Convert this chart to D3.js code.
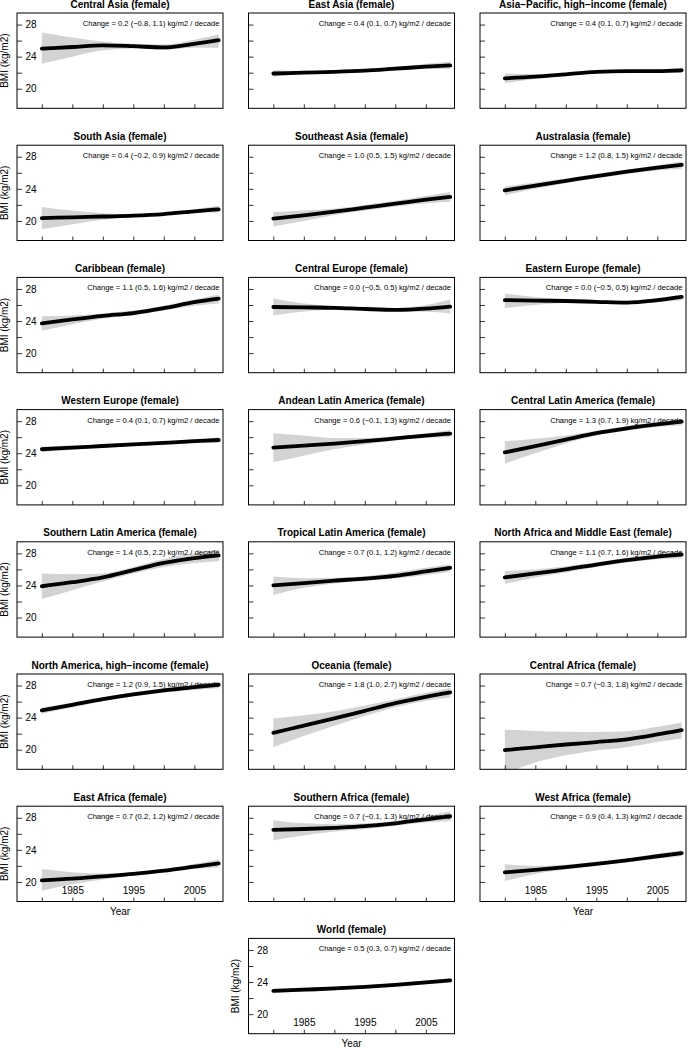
<!DOCTYPE html>
<html>
<head>
<meta charset="utf-8">
<script src="https://cdn.jsdelivr.net/npm/d3@7/dist/d3.min.js"></script>
<style>
  html, body { margin: 0; padding: 0; background: #fff; }
  svg { display: block; font-family: "Liberation Sans", Arial, Helvetica, sans-serif; }
</style>
</head>
<body>
<svg id="chart" width="688" height="1050"></svg>
<script>
// ---------------- DATA ----------------
const years = [1980, 1985, 1990, 1995, 2000, 2005, 2009];

const regions = [
  "Central Asia", "East Asia", "Asia\u2212Pacific, high\u2212income",
  "South Asia", "Southeast Asia", "Australasia",
  "Caribbean", "Central Europe", "Eastern Europe",
  "Western Europe", "Andean Latin America", "Central Latin America",
  "Southern Latin America", "Tropical Latin America", "North Africa and Middle East",
  "North America, high\u2212income", "Oceania", "Central Africa",
  "East Africa", "Southern Africa", "West Africa",
  "World"
];

const changeLabels = [
  "0.2 (\u22120.8, 1.1)", "0.4 (0.1, 0.7)", "0.4 (0.1, 0.7)",
  "0.4 (\u22120.2, 0.9)", "1.0 (0.5, 1.5)", "1.2 (0.8, 1.5)",
  "1.1 (0.5, 1.6)", "0.0 (\u22120.5, 0.5)", "0.0 (\u22120.5, 0.5)",
  "0.4 (0.1, 0.7)", "0.6 (\u22120.1, 1.3)", "1.3 (0.7, 1.9)",
  "1.4 (0.5, 2.2)", "0.7 (0.1, 1.2)", "1.1 (0.7, 1.6)",
  "1.2 (0.9, 1.5)", "1.8 (1.0, 2.7)", "0.7 (\u22120.3, 1.8)",
  "0.7 (0.2, 1.2)", "0.7 (\u22120.1, 1.3)", "0.9 (0.4, 1.3)",
  "0.5 (0.3, 0.7)"
];

const meanBMI = [
  [25.0, 25.2, 25.4, 25.3, 25.15, 25.6, 26.05],
  [21.9, 22.0, 22.1, 22.25, 22.5, 22.75, 22.9],
  [21.3, 21.5, 21.8, 22.1, 22.2, 22.2, 22.3],
  [20.35, 20.45, 20.55, 20.65, 20.85, 21.2, 21.45],
  [20.3, 20.7, 21.15, 21.65, 22.15, 22.65, 23.0],
  [23.8, 24.4, 25.0, 25.6, 26.15, 26.65, 27.0],
  [23.7, 24.2, 24.65, 25.0, 25.6, 26.35, 26.8],
  [25.75, 25.7, 25.65, 25.5, 25.4, 25.55, 25.8],
  [26.6, 26.55, 26.5, 26.4, 26.3, 26.6, 27.0],
  [24.5, 24.7, 24.9, 25.1, 25.3, 25.5, 25.65],
  [24.7, 24.95, 25.2, 25.5, 25.85, 26.2, 26.45],
  [24.1, 24.9, 25.7, 26.5, 27.1, 27.6, 27.95],
  [23.9, 24.4, 25.0, 25.9, 26.8, 27.4, 27.75],
  [24.0, 24.3, 24.6, 24.85, 25.2, 25.75, 26.2],
  [25.0, 25.5, 26.0, 26.6, 27.15, 27.6, 27.85],
  [24.9, 25.6, 26.3, 26.9, 27.4, 27.8, 28.1],
  [22.1, 23.0, 23.9, 24.85, 25.8, 26.6, 27.15],
  [19.95, 20.3, 20.65, 20.95, 21.3, 21.9, 22.45],
  [20.2, 20.4, 20.7, 21.0, 21.4, 21.9, 22.3],
  [26.5, 26.6, 26.75, 26.95, 27.3, 27.8, 28.2],
  [21.2, 21.5, 21.85, 22.25, 22.7, 23.2, 23.6],
  [22.9, 23.05, 23.2, 23.4, 23.65, 23.95, 24.2]
];

const upperBMI = [
  [27.0, 26.4, 25.9, 25.6, 25.5, 26.1, 26.8],
  [22.3, 22.2, 22.25, 22.4, 22.7, 23.1, 23.4],
  [21.9, 21.8, 21.95, 22.25, 22.35, 22.4, 22.65],
  [21.75, 21.3, 20.95, 20.8, 20.95, 21.45, 21.9],
  [21.1, 21.3, 21.55, 22.0, 22.5, 23.1, 23.6],
  [24.3, 24.8, 25.3, 25.85, 26.4, 26.95, 27.4],
  [24.6, 24.7, 24.95, 25.3, 25.9, 26.7, 27.3],
  [26.8, 26.2, 25.9, 25.7, 25.6, 26.0, 26.7],
  [27.4, 27.0, 26.7, 26.6, 26.5, 26.85, 27.3],
  [24.85, 24.95, 25.1, 25.3, 25.5, 25.75, 25.95],
  [26.5, 26.2, 25.9, 25.9, 26.1, 26.5, 26.9],
  [25.5, 25.8, 26.2, 26.8, 27.4, 27.9, 28.3],
  [25.5, 25.4, 25.5, 26.3, 27.3, 28.0, 28.5],
  [25.1, 24.9, 24.95, 25.15, 25.6, 26.2, 26.65],
  [25.8, 26.0, 26.4, 26.9, 27.45, 27.95, 28.3],
  [25.3, 25.9, 26.55, 27.15, 27.7, 28.15, 28.5],
  [23.9, 24.3, 24.8, 25.5, 26.3, 27.1, 27.7],
  [22.5, 22.35, 22.25, 22.2, 22.3, 22.85, 23.4],
  [21.6, 21.2, 21.05, 21.2, 21.6, 22.25, 22.8],
  [27.7, 27.3, 27.2, 27.3, 27.6, 28.2, 28.8],
  [22.2, 22.0, 22.15, 22.5, 22.95, 23.5, 23.95],
  [23.15, 23.3, 23.4, 23.6, 23.85, 24.2, 24.45]
];

const lowerBMI = [
  [23.1, 24.0, 24.8, 25.0, 24.85, 25.1, 25.1],
  [21.5, 21.8, 21.95, 22.1, 22.3, 22.45, 22.5],
  [20.7, 21.2, 21.65, 21.95, 22.05, 22.0, 21.95],
  [18.95, 19.6, 20.15, 20.5, 20.75, 21.0, 21.05],
  [19.3, 20.0, 20.75, 21.3, 21.8, 22.2, 22.4],
  [23.2, 24.0, 24.7, 25.3, 25.85, 26.3, 26.5],
  [22.8, 23.6, 24.3, 24.7, 25.3, 25.9, 26.2],
  [24.7, 25.2, 25.4, 25.3, 25.2, 25.15, 24.95],
  [25.6, 26.0, 26.25, 26.2, 26.1, 26.35, 26.6],
  [24.15, 24.45, 24.7, 24.9, 25.1, 25.25, 25.35],
  [22.9, 23.7, 24.5, 25.1, 25.6, 25.9, 26.0],
  [22.7, 24.0, 25.2, 26.2, 26.8, 27.3, 27.5],
  [22.3, 23.4, 24.5, 25.5, 26.3, 26.8, 27.0],
  [22.8, 23.7, 24.25, 24.55, 24.85, 25.3, 25.7],
  [24.2, 25.0, 25.6, 26.3, 26.85, 27.25, 27.4],
  [24.5, 25.3, 26.05, 26.65, 27.1, 27.45, 27.65],
  [20.3, 21.7, 23.0, 24.2, 25.3, 26.1, 26.5],
  [17.0, 18.4, 19.3, 19.9, 20.3, 20.95, 21.4],
  [18.9, 19.7, 20.3, 20.8, 21.2, 21.6, 21.8],
  [25.2, 25.8, 26.3, 26.6, 27.0, 27.4, 27.6],
  [20.1, 21.0, 21.55, 22.0, 22.45, 22.9, 23.2],
  [22.65, 22.8, 22.95, 23.15, 23.4, 23.7, 23.95]
];

const xTicks = [1980, 1985, 1990, 1995, 2000, 2005];
const xTickLabels = [1985, 1995, 2005];
const yTicks = [20, 22, 24, 26, 28];
const yTickLabels = [20, 24, 28];

// ---------------- LAYOUT ----------------
const colLeft = [17, 248.5, 480];
const panelW = 206, panelH = 95.3;
const rowTop0 = 13, rowPitch = 132.2;

const x = d3.scaleLinear().domain([1975.93, 2009.7]).range([0, panelW]);
const y = d3.scaleLinear().domain([17.56, 29.44]).range([panelH, 0]);

const svg = d3.select("#chart");
svg.append("rect").attr("width", 688).attr("height", 1050).attr("fill", "#fff");

const defs = svg.append("defs");
defs.append("clipPath").attr("id", "pclip")
  .append("rect").attr("x", 0).attr("y", 0).attr("width", panelW).attr("height", panelH);

const area = d3.area()
  .x((d, i) => x(years[i]))
  .y0(d => y(d[0]))
  .y1(d => y(d[1]))
  .curve(d3.curveMonotoneX);
const line = d3.line()
  .x((d, i) => x(years[i]))
  .y(d => y(d))
  .curve(d3.curveMonotoneX);

const xLabelPanels = new Set([18, 20, 21]);

regions.forEach((name, p) => {
  let row, col;
  if (p < 21) { row = Math.floor(p / 3); col = p % 3; }
  else { row = 7; col = 1; }
  const showY = (col === 0) || p === 21;
  const showX = xLabelPanels.has(p);

  const g = svg.append("g")
    .attr("transform", `translate(${colLeft[col]},${rowTop0 + row * rowPitch})`);

  // band + line
  const plot = g.append("g").attr("clip-path", "url(#pclip)");
  const bandData = lowerBMI[p].map((lo, i) => [lo, upperBMI[p][i]]);
  plot.append("path").datum(bandData)
    .attr("d", area).attr("fill", "#d3d3d3").attr("stroke", "none");
  plot.append("path").datum(meanBMI[p])
    .attr("d", line).attr("fill", "none").attr("stroke", "#000")
    .attr("stroke-width", 3.8).attr("stroke-linecap", "round").attr("stroke-linejoin", "round");

  // y axis (ticks inward)
  const yAxis = d3.axisRight(y).tickValues(yTicks).tickSize(5)
    .tickFormat(d => (showY && yTickLabels.includes(d)) ? d : "");
  const ya = g.append("g").call(yAxis);
  ya.select(".domain").remove();
  ya.selectAll(".tick line").attr("stroke", "#000").attr("stroke-width", 0.8);
  ya.selectAll(".tick text").attr("x", 8.5).attr("fill", "#000")
    .attr("font-size", 10).attr("font-family", "Liberation Sans, Arial, sans-serif");

  // x axis (ticks inward, labels inside)
  const xAxis = d3.axisTop(x).tickValues(xTicks).tickSize(4)
    .tickFormat(d => (showX && xTickLabels.includes(d)) ? d : "");
  const xa = g.append("g").attr("transform", `translate(0,${panelH})`).call(xAxis);
  xa.select(".domain").remove();
  xa.selectAll(".tick line").attr("stroke", "#000").attr("stroke-width", 0.8);
  xa.selectAll(".tick text").attr("y", -8).attr("dy", 0).attr("fill", "#000")
    .attr("font-size", 10).attr("font-family", "Liberation Sans, Arial, sans-serif");

  // box
  g.append("rect").attr("x", 0).attr("y", 0).attr("width", panelW).attr("height", panelH)
    .attr("fill", "none").attr("stroke", "#000").attr("stroke-width", 1);

  // title
  g.append("text").attr("x", panelW / 2).attr("y", -5.5)
    .attr("text-anchor", "middle").attr("font-weight", "bold").attr("font-size", 10)
    .text(`${name} (female)`);

  // annotation
  g.append("text").attr("x", panelW - 3.5).attr("y", 13)
    .attr("text-anchor", "end").attr("font-size", 7.6)
    .text(`Change = ${changeLabels[p]} kg/m2 / decade`);

  if (showY) {
    g.append("text")
      .attr("transform", `translate(-9.5,${panelH / 2}) rotate(-90)`)
      .attr("text-anchor", "middle").attr("font-size", 10)
      .text("BMI (kg/m2)");
  }
  if (showX) {
    g.append("text").attr("x", panelW / 2).attr("y", panelH + 13.5)
      .attr("text-anchor", "middle").attr("font-size", 10)
      .text("Year");
  }
});
</script>
</body>
</html>
